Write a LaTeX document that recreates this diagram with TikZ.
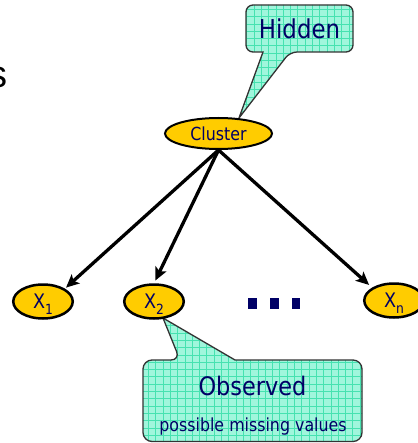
\documentclass[tikz,border=0pt]{standalone}
\usepackage{fontspec}
\newfontfamily\tah[FakeStretch=0.88]{DejaVu Sans}
\newfontfamily\arl{Liberation Sans}
\usetikzlibrary{arrows.meta,shapes.geometric}
\definecolor{navy}{RGB}{0,0,102}
\definecolor{gold}{RGB}{255,204,0}
\definecolor{mint}{RGB}{160,246,220}
\definecolor{mintline}{RGB}{70,226,176}
\newcommand\hidpath{(353,28) [rounded corners=7pt] -- (353,52) -- (290,52) [sharp corners] -- (239,118) -- (263,52) [rounded corners=7pt] -- (246,52) -- (246,5) -- (353,5) -- cycle}
\newcommand\obspath{(362,400) [rounded corners=9pt] -- (362,441.5) -- (143,441.5) -- (143,360) -- (180,360) [sharp corners] -- (163,318) -- (235,360) [rounded corners=9pt] -- (362,360) -- cycle}
\begin{document}
\begin{tikzpicture}[x=1pt,y=-1pt,
  var/.style={ellipse, draw=black, line width=2.5pt, fill=gold, inner sep=0pt,
    minimum width=59.5pt, minimum height=34pt, text=navy, font=\tah\fontsize{20}{20}\selectfont},
  arr/.style={line width=3.3pt, -{Stealth[length=13pt,width=12pt,inset=3pt]}},
  callfill/.style={fill=mint},
  callgrid/.style={draw=mintline, line width=0.6pt},
  callborder/.style={draw=black!80, line width=1.3pt},
  calltext/.style={text=navy, inner sep=0pt},
  dot/.style={fill=navy}]
\useasboundingbox (0,0) rectangle (417,443);

% partial text at left edge
\node[anchor=base east, inner sep=0pt, font=\arl\fontsize{38}{38}\selectfont] (frag) at (8,88) {s};

% Hidden callout
\fill[callfill] \hidpath;
\begin{scope}
  \clip \hidpath;
  \foreach \gx in {232,239.3,...,360} {\draw[callgrid] (\gx,0) -- (\gx,125);}
  \foreach \gy in {2,9.3,...,125} {\draw[callgrid] (230,\gy) -- (360,\gy);}
\end{scope}
\draw[callborder] \hidpath;
\node[calltext, font=\tah\fontsize{26}{26}\selectfont] (hidden) at (299.5,29) {Hidden};

% Observed callout
\fill[callfill] \obspath;
\begin{scope}
  \clip \obspath;
  \foreach \gx in {141,148.3,...,365} {\draw[callgrid] (\gx,310) -- (\gx,443);}
  \foreach \gy in {311,318.3,...,443} {\draw[callgrid] (140,\gy) -- (365,\gy);}
\end{scope}
\draw[callborder] \obspath;
\node[calltext, font=\tah\fontsize{25.5}{25.5}\selectfont] (observed) at (252.5,386) {Observed};
\node[calltext, font=\tah\fontsize{18}{18}\selectfont] (missing) at (253,427) {possible missing values};

% nodes
\node[ellipse, draw=black, line width=2pt, fill=gold, inner sep=0pt, minimum width=107pt,
  minimum height=31pt, text=navy, font=\tah\fontsize{18}{18}\selectfont] (cl) at (218.5,133.5) {Cluster};
\node[var] (x1) at (43,301.5) {X\raisebox{-6pt}[0pt][0pt]{\fontsize{14}{14}\selectfont 1}};
\node[var] (x2) at (154,301.5) {X\raisebox{-6pt}[0pt][0pt]{\fontsize{14}{14}\selectfont 2}};
\node[var] (xn) at (394,300.5) {X\raisebox{-6pt}[0pt][0pt]{\fontsize{14}{14}\selectfont n}};

% dots
\fill[dot] (248,298) rectangle (257,309);
\fill[dot] (270,298) rectangle (278.5,309);
\fill[dot] (291.5,298) rectangle (300,309);

% arrows
\draw[arr, shorten >=1.5pt] (cl.south) -- (x1.north east);
\draw[arr, shorten >=3pt] (cl.south) -- (x2.north);
\draw[arr, shorten >=4pt] (cl.south) -- (xn.north west);
\end{tikzpicture}
\end{document}
